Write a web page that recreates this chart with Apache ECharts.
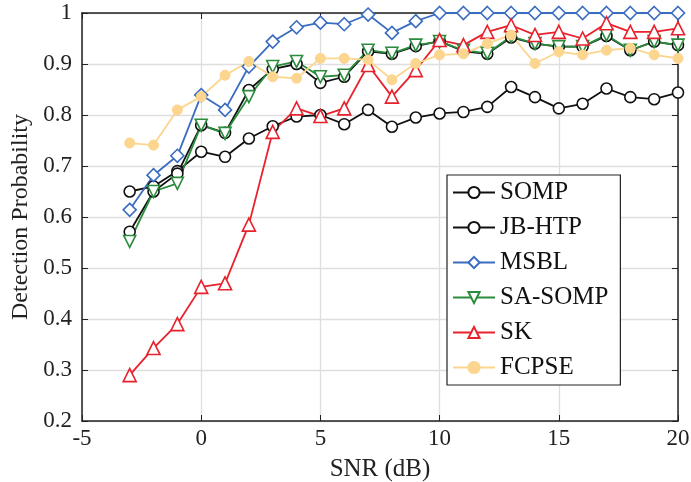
<!DOCTYPE html>
<html>
<head>
<meta charset="utf-8">
<script src="https://cdn.jsdelivr.net/npm/echarts@6/dist/echarts.min.js"></script>
<style>
  html, body { margin: 0; padding: 0; background: #fff; }
  #chart { width: 691px; height: 482px; }
</style>
</head>
<body>
<div id="chart"></div>
<script>
// SNR points (dB)
const snr = [-3, -2, -1, 0, 1, 2, 3, 4, 5, 6, 7, 8, 9, 10, 11, 12, 13, 14, 15, 16, 17, 18, 19, 20]

const somp   = [0.65, 0.66, 0.69, 0.728, 0.718, 0.754, 0.778, 0.797, 0.80, 0.782, 0.81, 0.777, 0.795, 0.803, 0.806, 0.816, 0.855, 0.835, 0.813, 0.822, 0.852, 0.835, 0.831, 0.844]
const jbhtp  = [0.571, 0.65, 0.685, 0.78, 0.765, 0.849, 0.89, 0.90, 0.863, 0.875, 0.925, 0.92, 0.935, 0.945, 0.925, 0.92, 0.952, 0.94, 0.934, 0.934, 0.955, 0.927, 0.944, 0.937]
const msbl   = [0.614, 0.682, 0.72, 0.839, 0.81, 0.895, 0.944, 0.972, 0.981, 0.978, 0.997, 0.961, 0.984, 1, 1, 1, 1, 1, 1, 1, 1, 1, 1, 1]
const sasomp = [0.552, 0.65, 0.666, 0.78, 0.764, 0.836, 0.895, 0.905, 0.875, 0.878, 0.927, 0.921, 0.937, 0.944, 0.927, 0.921, 0.954, 0.94, 0.934, 0.934, 0.957, 0.927, 0.944, 0.937]
const sk     = [0.29, 0.343, 0.39, 0.463, 0.47, 0.585, 0.767, 0.813, 0.798, 0.813, 0.898, 0.836, 0.888, 0.947, 0.937, 0.963, 0.976, 0.957, 0.963, 0.95, 0.98, 0.963, 0.963, 0.97]
const fcpse  = [0.745, 0.741, 0.81, 0.836, 0.878, 0.905, 0.875, 0.872, 0.911, 0.911, 0.908, 0.869, 0.901, 0.918, 0.92, 0.94, 0.957, 0.901, 0.924, 0.918, 0.927, 0.931, 0.918, 0.911]

const pairs = vals => snr.map((x, i) => [x, vals[i]])

const chart = echarts.init(document.getElementById('chart'))
const serif = '"Liberation Serif", "DejaVu Serif", serif'

const mkLine = (name, vals, color, symbol, extra) => Object.assign({
    name: name,
    type: 'line',
    data: pairs(vals),
    symbol: symbol,
    symbolSize: 11,
    showAllSymbol: true,
    lineStyle: { color: color, width: 1.8 },
    itemStyle: { color: '#fff', borderColor: color, borderWidth: 1.6 },
    emphasis: { disabled: true },
    animation: false
}, extra || {})

const axisLine = { show: true, onZero: false, lineStyle: { color: '#222', width: 1.5 } }
const axisTick = { show: true, inside: true, length: 6, lineStyle: { color: '#222' } }

const option = {
    backgroundColor: '#fff',
    animation: false,
    grid: { left: 82, right: 13, top: 13, bottom: 61, outerBoundsMode: 'none' },
    legend: {
        orient: 'vertical',
        left: 447,
        top: 175,
        padding: [5, 12, 5, 5],
        itemGap: 10,
        itemWidth: 42,
        itemHeight: 14,
        backgroundColor: '#fff',
        borderColor: '#222',
        borderWidth: 1.2,
        borderRadius: 0,
        textStyle: { fontFamily: serif, fontSize: 25, color: '#111' },
        data: ['SOMP', 'JB-HTP', 'MSBL', 'SA-SOMP', 'SK', 'FCPSE']
    },
    xAxis: [
        {
            type: 'value',
            min: -5, max: 20, interval: 5,
            name: 'SNR (dB)',
            nameLocation: 'middle',
            nameGap: 36,
            nameTextStyle: { fontFamily: serif, fontSize: 25, color: '#222' },
            axisLine: axisLine,
            axisTick: axisTick,
            axisLabel: { fontFamily: serif, fontSize: 23, color: '#222', margin: 6 },
            splitLine: { show: true, lineStyle: { color: '#dedede', width: 1.3 } }
        },
        {
            type: 'value', position: 'top',
            min: -5, max: 20, interval: 5,
            axisLine: axisLine,
            axisTick: axisTick,
            axisLabel: { show: false },
            splitLine: { show: false }
        }
    ],
    yAxis: [
        {
            type: 'value',
            min: 0.2, max: 1, interval: 0.1,
            name: 'Detection Probability',
            nameLocation: 'middle',
            nameGap: 45,
            nameTextStyle: { fontFamily: serif, fontSize: 24, color: '#222' },
            axisLine: axisLine,
            axisTick: axisTick,
            axisLabel: { fontFamily: serif, fontSize: 23, color: '#222', margin: 10 },
            splitLine: { show: true, lineStyle: { color: '#dedede', width: 1.3 } }
        },
        {
            type: 'value', position: 'right',
            min: 0.2, max: 1, interval: 0.1,
            axisLine: axisLine,
            axisTick: axisTick,
            axisLabel: { show: false },
            splitLine: { show: false }
        }
    ],
    series: [
        mkLine('SOMP', somp, '#111', 'circle'),
        mkLine('JB-HTP', jbhtp, '#111', 'circle'),
        mkLine('MSBL', msbl, '#3a6cc0', 'diamond', { symbolSize: 13 }),
        mkLine('SA-SOMP', sasomp, '#2a8c3c', 'triangle', { symbolRotate: 180, symbolSize: 12 }),
        mkLine('SK', sk, '#e8222c', 'triangle', { symbolSize: 13 }),
        mkLine('FCPSE', fcpse, '#fcd58e', 'circle', {
            symbolSize: 10,
            itemStyle: { color: '#fcd58e', borderColor: '#fcd58e', borderWidth: 1 }
        })
    ]
}

chart.setOption(option)
</script>
</body>
</html>
